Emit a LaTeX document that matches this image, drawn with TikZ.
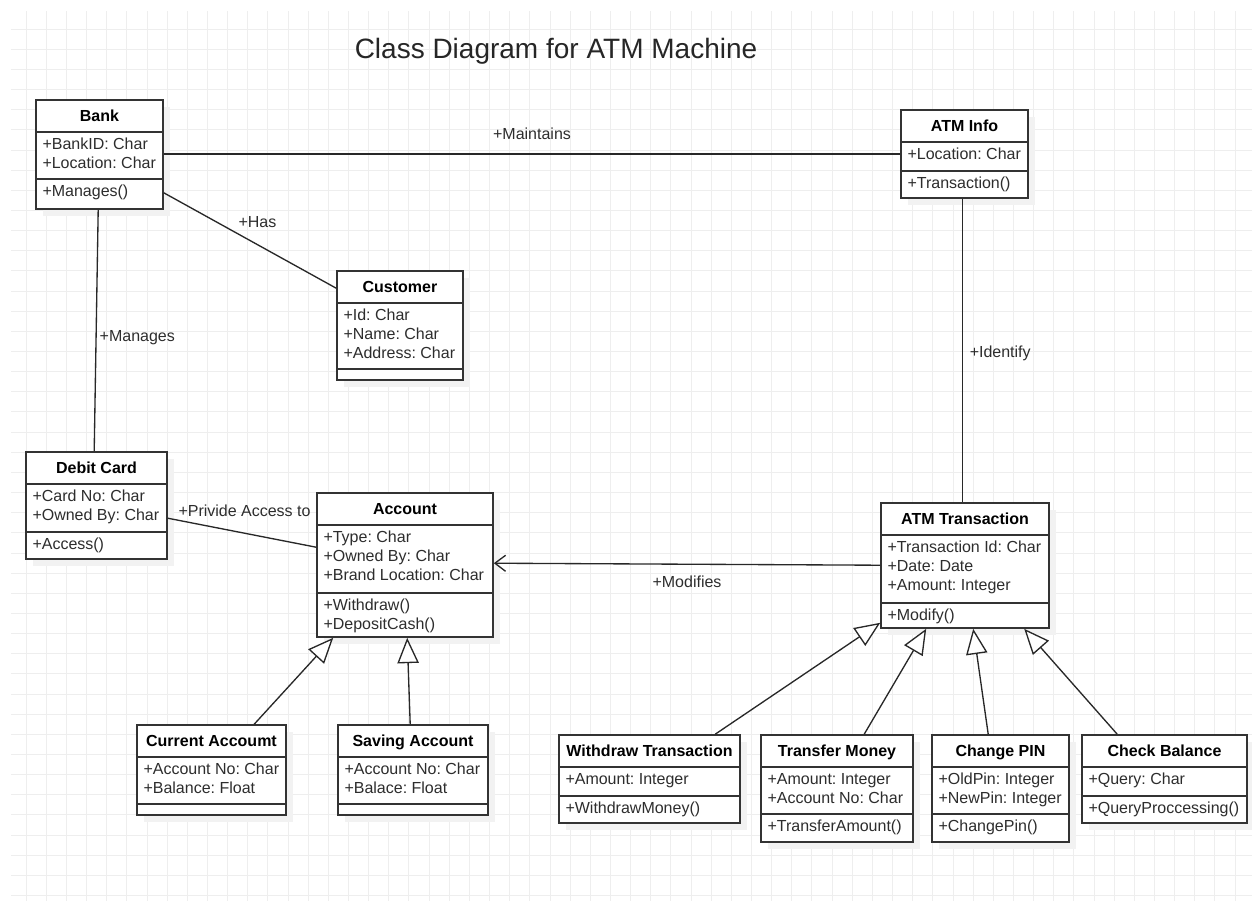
\documentclass[tikz,border=0pt]{standalone}
\usepackage{fontspec}
\setmainfont{Liberation Sans}
\frenchspacing
\usetikzlibrary{arrows.meta,calc,fit}

\definecolor{boxgray}{RGB}{51,51,51}
\definecolor{linegray}{RGB}{40,40,40}
\definecolor{txtgray}{RGB}{45,45,45}
\definecolor{gridgray}{RGB}{238,238,238}

\tikzset{every picture/.style={line width=0.75pt}}
\tikzset{
  gridline/.style={draw=gridgray, line width=0.6pt},
  boxshadow/.style={fill=black!5},
  classbox/.style={draw=boxgray, line width=1.2pt, fill=white, inner sep=0pt},
  classline/.style={draw=boxgray, line width=1.2pt},
  classtitle/.style={font=\bfseries\fontsize{12}{14}\selectfont, anchor=base, inner sep=0pt},
  member/.style={font=\fontsize{12}{14}\selectfont, text=txtgray, anchor=base west, inner sep=0pt},
  lbl/.style={font=\fontsize{12}{14}\selectfont, text=txtgray, inner sep=0pt},
  assoc/.style={draw=linegray, line width=1pt},
  navig/.style={assoc, -{Straight Barb[length=8pt,width=12pt]}},
  inherit/.style={assoc, -{Triangle[length=19pt,width=16pt,fill=white]}}
}

% class box: name, left, top, right, bottom, attribute height, title, attributes, operations
\newcommand{\umlclass}[9]{%
  \fill[boxshadow] (#2+7,#3+7) rectangle (#4+7,#5+7);
  \node[classbox, fit={(#2,#3) (#4,#5)}] (#1) {};
  \draw[classline] (#2,#3+32) -- (#4,#3+32);
  \draw[classline] (#2,#3+32+#6) -- (#4,#3+32+#6);
  \node[classtitle] (#1-title) at ({(#2+#4)/2},#3+21) {#7};
  \foreach \txt [count=\row] in {#8}
    \node[member] (#1-attr\row) at (#2+6,{#3+49+19*(\row-1)}) {\txt};
  \foreach \txt [count=\row] in {#9}
    \node[member] (#1-op\row) at (#2+6,{#3+49+#6+19*(\row-1)}) {\txt};
}

\begin{document}
\begin{tikzpicture}[x=0.75pt,y=0.75pt,yscale=-1,xscale=1]
\useasboundingbox (0,0) rectangle (1252,901);

% background grid
\foreach \gx in {0,...,60}
  \draw[gridline] ({26+20.15*\gx},11) -- ({26+20.15*\gx},901);
\foreach \gy in {0,...,43}
  \draw[gridline] (11,{29+20.15*\gy}) -- (1252,{29+20.15*\gy});

\node[font=\fontsize{21}{25}\selectfont, text=black!85, anchor=base] (title) at (556,58) {Class Diagram for ATM Machine};

% classes
\umlclass{bank}{36}{100}{163}{209}{47}{Bank}{+BankID: Char,+Location: Char}{+Manages()}
\umlclass{customer}{337}{271}{463}{380}{66}{Customer}{+Id: Char,+Name: Char,+Address: Char}{}
\umlclass{atminfo}{901}{110}{1028}{198}{29}{ATM Info}{+Location: Char}{+Transaction()}
\umlclass{debit}{26}{452}{167}{559}{48}{Debit Card}{+Card No: Char,+Owned By: Char}{+Access()}
\umlclass{account}{317}{493}{493}{637}{68}{Account}{+Type: Char,+Owned By: Char,+Brand Location: Char}{+Withdraw(),+DepositCash()}
\umlclass{atmtrans}{881}{503}{1049}{628}{68}{ATM Transaction}{+Transaction Id: Char,+Date: Date,+Amount: Integer}{+Modify()}
\umlclass{current}{137}{725}{286}{815}{47}{Current Accoumt}{+Account No: Char,+Balance: Float}{}
\umlclass{saving}{338}{725}{488}{815}{47}{Saving Account}{+Account No: Char,+Balace: Float}{}
\umlclass{withdraw}{559}{735}{740}{823}{29}{Withdraw Transaction}{+Amount: Integer}{+WithdrawMoney()}
\umlclass{transfer}{761}{735}{913}{842}{47}{Transfer Money}{+Amount: Integer,+Account No: Char}{+TransferAmount()}
\umlclass{changepin}{932}{735}{1069}{842}{47}{Change PIN}{+OldPin: Integer,+NewPin: Integer}{+ChangePin()}
\umlclass{checkbal}{1082}{735}{1247}{823}{29}{Check Balance}{+Query: Char}{+QueryProccessing()}

% associations
\draw[assoc] (atminfo.west -| bank.east) -- (atminfo.west) node[lbl, midway, yshift=15.5pt] {+Maintains};
\draw[assoc] ($(bank.south east)+(0,-17)$) -- ($(customer.north west)+(0,18)$) node[lbl, midway, xshift=5.6pt, yshift=13.5pt] {+Has};
\draw[assoc] ($(bank.south west)+(63,0)$) -- ($(debit.north west)+(69,0)$) node[lbl, midway, xshift=30.8pt, yshift=-5pt] {+Manages};
\draw[assoc] ($(debit.north east)+(0,67)$) -- ($(account.north west)+(0,55)$) node[lbl, midway, xshift=1.9pt, yshift=16.1pt] {+Privide Access to};
\draw[navig] ($(atmtrans.north west)+(0,63)$) -- ($(account.north east)+(0,71)$) node[lbl, midway, yshift=-12.8pt] {+Modifies};
\draw[assoc] ($(atminfo.south west)+(62,0)$) -- ($(atmtrans.north west)+(82,0)$) node[lbl, midway, xshift=28.5pt, yshift=-2.5pt] {+Identify};

% generalizations
\draw[inherit] ($(current.north west)+(118,0)$) -- ($(account.south west)+(17,0)$);
\draw[inherit] ($(saving.north west)+(73,0)$) -- ($(account.south west)+(91,0)$);
\draw[inherit] ($(withdraw.north west)+(157,0)$) -- ($(atmtrans.south west)+(0,-6)$);
\draw[inherit] ($(transfer.north west)+(104,0)$) -- ($(atmtrans.south west)+(46,0)$);
\draw[inherit] ($(changepin.north west)+(57,0)$) -- ($(atmtrans.south west)+(93,0)$);
\draw[inherit] ($(checkbal.north west)+(36,0)$) -- ($(atmtrans.south west)+(144,0)$);

\end{tikzpicture}
\end{document}
